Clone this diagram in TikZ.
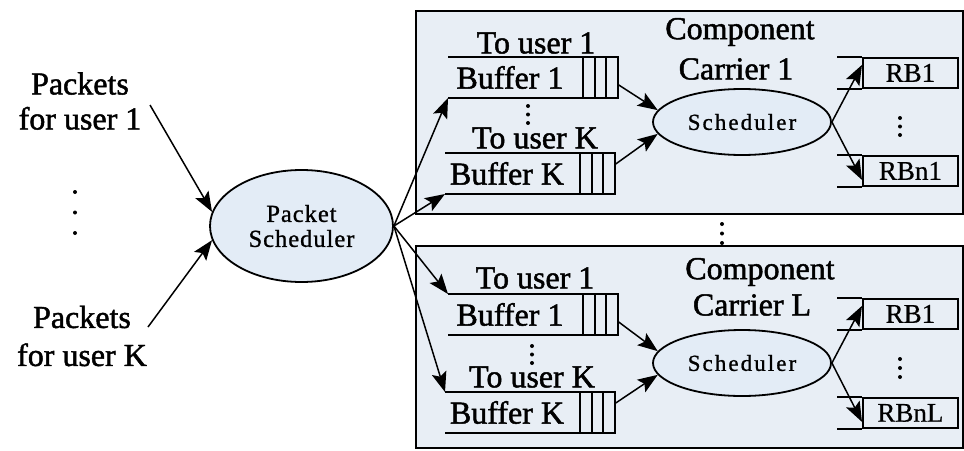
\documentclass[tikz,border=0pt]{standalone}
\usepackage{fontspec}
\setmainfont{Liberation Serif}
\newfontfamily\labelfont[FakeBold=1.5]{Liberation Serif}
\newfontfamily\semiwidefont[LetterSpace=4,FakeBold=1]{Liberation Serif}
\newfontfamily\widefont[LetterSpace=9,FakeBold=1]{Liberation Serif}
\newfontfamily\rbfont[FakeBold=0.5]{Liberation Serif}
\usetikzlibrary{arrows.meta,shapes.geometric}

\definecolor{panelfill}{HTML}{E8EEF5}
\definecolor{ovalfill}{HTML}{E3ECF6}

\tikzset{
  bigtext/.style={font=\labelfont\fontsize{32}{34}\selectfont, inner sep=0pt},
  panel/.style={draw, line width=1.9pt, fill=panelfill, inner sep=0pt, anchor=north west},
  boxline/.style={line width=1.8pt},
  bufslot/.style={minimum width=170pt, minimum height=41pt, inner sep=0pt, outer sep=0pt},
  rbbox/.style={draw, line width=1.8pt, minimum width=95pt, minimum height=30pt, inner sep=0pt,
    font=\rbfont\fontsize{27}{30}\selectfont},
  oval/.style={ellipse, draw, line width=1.8pt, fill=ovalfill, inner sep=0pt},
  conn/.style={line width=1.5pt, -{Stealth[length=20pt,width=15pt,inset=4pt]}},
}

% buffer queue: name, x, y of the upper left corner, label
\newcommand\bufferq[4]{%
  \node[bufslot, anchor=north west] (#1) at (#2,#3) {};
  \draw[boxline] (#1.north west) -- (#1.north east) -- (#1.south east) -- (#1.south west);
  \foreach \cx in {12,23,35}{\draw[boxline] ([xshift=-\cx pt]#1.north east) -- ([xshift=-\cx pt]#1.south east);}
  \node[bigtext] (#1lab) at ([xshift=62pt]#1.west) {#4};
}
% resource block: name, x, y of the box's upper left corner, label
\newcommand\rbq[4]{%
  \node[rbbox, anchor=north west] (#1) at (#2,#3) {#4};
  \draw[boxline] (#1.north west) -- ++(-25,0);
  \draw[boxline] (#1.south west) -- ++(-25,0);
}
% three vertical dots: x, y of the first dot, spacing
\newcommand\dotcol[3]{%
  \foreach \k in {0,1,2}{\fill (#1,#2+\k*#3) circle (2pt);}
}

\begin{document}
\begin{tikzpicture}[x=1pt,y=-1pt]
\useasboundingbox (0,0) rectangle (964,450);

% carrier panels
\node[panel, minimum width=547pt, minimum height=203pt] (cc1) at (415,10) {};
\node[panel, minimum width=547pt, minimum height=202pt] (ccL) at (415,245) {};

% packet scheduler and incoming flows
\node[oval, minimum width=183pt, minimum height=112pt, align=center,
  font=\semiwidefont\fontsize{24.5}{25}\selectfont] (ps) at (301.5,226) {Packet\\Scheduler};
\node[bigtext, align=center, font=\labelfont\fontsize{32}{35}\selectfont] (pk1) at (80,101) {Packets\\for user 1};
\node[bigtext, align=center, font=\labelfont\fontsize{32}{38}\selectfont] (pkK) at (82,336) {Packets\\for user K};
\dotcol{75}{192}{20.5}
\coordinate (src1) at (150,105);
\coordinate (srcK) at (148,327);
\draw[conn] (src1) -- (ps.171);
\draw[conn] (srcK) -- (ps.189);

% ---- component carrier 1 ----
\node[bigtext] (cc1a) at (740,32) {Component};
\node[bigtext] (cc1b) at (736,69) {Carrier 1};
\bufferq{b11}{448}{57}{Buffer 1}
\bufferq{b1K}{445}{153}{Buffer K}
\node[bigtext] (t11) at (536,43) {To user 1};
\node[bigtext] (t1K) at (535,138) {To user K};
\dotcol{528}{106}{8.5}
\node[oval, minimum width=178pt, minimum height=66pt, font=\widefont\fontsize{23}{26}\selectfont] (s1) at (742,122) {Scheduler};
\rbq{r11}{862}{57}{RB1}
\rbq{r1n}{862}{155}{RBn1}
\dotcol{900}{118}{8.5}

% ---- component carrier L ----
\node[bigtext] (cLa) at (760,272) {Component};
\node[bigtext] (cLb) at (752,305) {Carrier L};
\bufferq{bL1}{448}{294}{Buffer 1}
\bufferq{bLK}{445}{392}{Buffer K}
\node[bigtext] (tL1) at (535,278) {To user 1};
\node[bigtext] (tLK) at (532,377) {To user K};
\dotcol{532}{346}{8.5}
\node[oval, minimum width=178pt, minimum height=66pt, font=\widefont\fontsize{23}{26}\selectfont] (sL) at (742,363) {Scheduler};
\rbq{rL1}{862}{298}{RB1}
\rbq{rLn}{862}{397}{RBnL}
\dotcol{900}{359}{9}

% more carriers in between
\dotcol{722}{224}{9.5}

% packet scheduler to the user buffers
\draw[conn] (ps.east) -- (b11.south west);
\draw[conn] (ps.east) -- (b1K.south west);
\draw[conn] (ps.east) -- (bL1.north west);
\draw[conn] (ps.east) -- (bLK.north west);

% buffers to carrier schedulers
\draw[conn] ([yshift=-7pt]b11.east) -- (s1.172);
\draw[conn] ([yshift=9pt]b1K.east) -- (s1.188);
\draw[conn] ([yshift=-7pt]bL1.east) -- (sL.172);
\draw[conn] ([yshift=9pt]bLK.east) -- (sL.188);

% carrier schedulers to resource blocks
\draw[conn] (s1.east) -- ([yshift=8pt]r11.west);
\draw[conn] (s1.east) -- ([yshift=-9pt]r1n.west);
\draw[conn] (sL.east) -- ([yshift=8pt]rL1.west);
\draw[conn] (sL.east) -- ([yshift=-9pt]rLn.west);
\end{tikzpicture}
\end{document}
